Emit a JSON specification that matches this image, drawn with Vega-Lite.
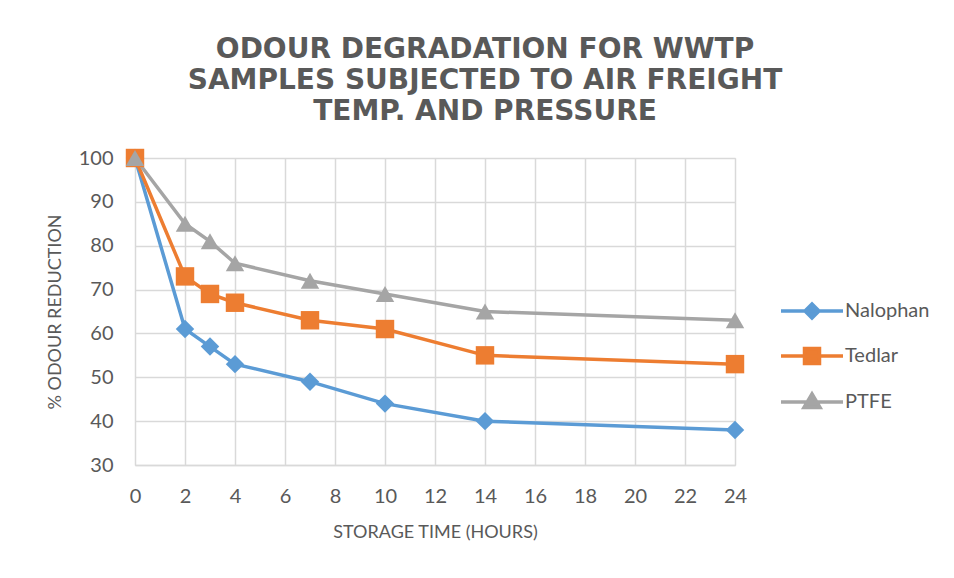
{
  "$schema": "https://vega.github.io/schema/vega-lite/v6.json",
  "width": 600,
  "height": 307,
  "autosize": {"type": "none"},
  "padding": {"left": 135, "top": 158, "right": 219, "bottom": 113},
  "background": "white",
  "title": {
    "text": ["ODOUR DEGRADATION FOR WWTP", "SAMPLES SUBJECTED TO AIR FREIGHT", "TEMP. AND PRESSURE"],
    "anchor": "middle",
    "frame": "group",
    "dx": 50,
    "offset": 22,
    "font": "DejaVu Sans",
    "fontWeight": "bold",
    "fontSize": 28,
    "lineHeight": 31,
    "color": "#595959"
  },
  "data": {
    "values": [
      {"t": 0, "v": 100, "s": "Nalophan"},
      {"t": 2, "v": 61, "s": "Nalophan"},
      {"t": 3, "v": 57, "s": "Nalophan"},
      {"t": 4, "v": 53, "s": "Nalophan"},
      {"t": 7, "v": 49, "s": "Nalophan"},
      {"t": 10, "v": 44, "s": "Nalophan"},
      {"t": 14, "v": 40, "s": "Nalophan"},
      {"t": 24, "v": 38, "s": "Nalophan"},
      {"t": 0, "v": 100, "s": "Tedlar"},
      {"t": 2, "v": 73, "s": "Tedlar"},
      {"t": 3, "v": 69, "s": "Tedlar"},
      {"t": 4, "v": 67, "s": "Tedlar"},
      {"t": 7, "v": 63, "s": "Tedlar"},
      {"t": 10, "v": 61, "s": "Tedlar"},
      {"t": 14, "v": 55, "s": "Tedlar"},
      {"t": 24, "v": 53, "s": "Tedlar"},
      {"t": 0, "v": 100, "s": "PTFE"},
      {"t": 2, "v": 85, "s": "PTFE"},
      {"t": 3, "v": 81, "s": "PTFE"},
      {"t": 4, "v": 76, "s": "PTFE"},
      {"t": 7, "v": 72, "s": "PTFE"},
      {"t": 10, "v": 69, "s": "PTFE"},
      {"t": 14, "v": 65, "s": "PTFE"},
      {"t": 24, "v": 63, "s": "PTFE"}
    ]
  },
  "encoding": {
    "x": {
      "field": "t", "type": "quantitative",
      "scale": {"domain": [0, 24], "nice": false, "zero": false},
      "axis": {
        "values": [0, 2, 4, 6, 8, 10, 12, 14, 16, 18, 20, 22, 24],
        "title": "STORAGE TIME (HOURS)",
        "ticks": false, "domain": true, "domainColor": "#d9d9d9", "domainWidth": 1.5,
        "grid": true, "gridColor": "#d9d9d9", "gridWidth": 1.5,
        "labelFlush": false, "labelOverlap": false,
        "labelFont": "Lato", "labelFontSize": 20, "labelColor": "#595959", "labelPadding": 21,
        "titleFont": "Lato", "titleFontSize": 18, "titleFontWeight": "normal", "titleColor": "#595959", "titlePadding": 17
      }
    },
    "y": {
      "field": "v", "type": "quantitative",
      "scale": {"domain": [30, 100], "nice": false, "zero": false},
      "axis": {
        "values": [30, 40, 50, 60, 70, 80, 90, 100],
        "title": "% ODOUR REDUCTION",
        "ticks": false, "domain": false,
        "grid": true, "gridColor": "#d9d9d9", "gridWidth": 1.5,
        "labelFlush": false, "labelOverlap": false,
        "labelFont": "Lato", "labelFontSize": 20, "labelColor": "#595959", "labelPadding": 22,
        "titleFont": "Lato", "titleFontSize": 18, "titleFontWeight": "normal", "titleColor": "#595959", "titlePadding": 14
      }
    }
  },
  "resolve": {
    "scale": {"shape": "independent", "color": "independent", "stroke": "independent"},
    "legend": {"shape": "independent", "color": "independent", "stroke": "independent"}
  },
  "layer": [
    {
      "mark": {"type": "line", "strokeWidth": 3.5},
      "encoding": {
        "color": {
          "field": "s", "type": "nominal",
          "scale": {"domain": ["Nalophan", "Tedlar", "PTFE"], "range": ["#5B9BD5", "#ED7D31", "#A5A5A5"]},
          "legend": null
        }
      }
    },
    {
      "mark": {"type": "point", "filled": true, "opacity": 1, "size": 340},
      "encoding": {
        "color": {
          "field": "s", "type": "nominal",
          "scale": {"domain": ["Nalophan", "Tedlar", "PTFE"], "range": ["#5B9BD5", "#ED7D31", "#A5A5A5"]},
          "legend": null
        },
        "shape": {
          "field": "s", "type": "nominal",
          "scale": {"domain": ["Nalophan", "Tedlar", "PTFE"], "range": ["diamond", "square", "triangle-up"]},
          "legend": null
        }
      }
    },
    {
      "transform": [{"filter": "false"}],
      "mark": {"type": "point", "filled": true, "opacity": 1},
      "encoding": {
        "color": {
          "field": "s", "type": "nominal",
          "scale": {"domain": ["Nalophan", "Tedlar", "PTFE"], "range": ["#5B9BD5", "#ED7D31", "#A5A5A5"]}
        },
        "stroke": {
          "field": "s", "type": "nominal",
          "scale": {"domain": ["Nalophan", "Tedlar", "PTFE"], "range": ["#5B9BD5", "#ED7D31", "#A5A5A5"]}
        },
        "shape": {
          "field": "s", "type": "nominal",
          "scale": {"domain": ["Nalophan", "Tedlar", "PTFE"], "range": ["M-6.2,0H6.2M0,-1.4L1.4,0L0,1.4L-1.4,0Z", "M-6.2,0H6.2M-1.5,-1.5H1.5V1.5H-1.5Z", "M-6.2,0H6.2M0,-1.6L1.6,1.1H-1.6Z"]},
          "legend": {
            "orient": "none",
            "legendX": 667,
            "legendY": 143,
            "title": null,
            "symbolSize": 100,
            "symbolStrokeWidth": 3.5,
            "symbolOpacity": 1,
            "rowPadding": 16,
            "labelOffset": 23,
            "labelFont": "Lato",
            "labelFontSize": 20,
            "labelColor": "#595959"
          }
        }
      }
    }
  ]
}
